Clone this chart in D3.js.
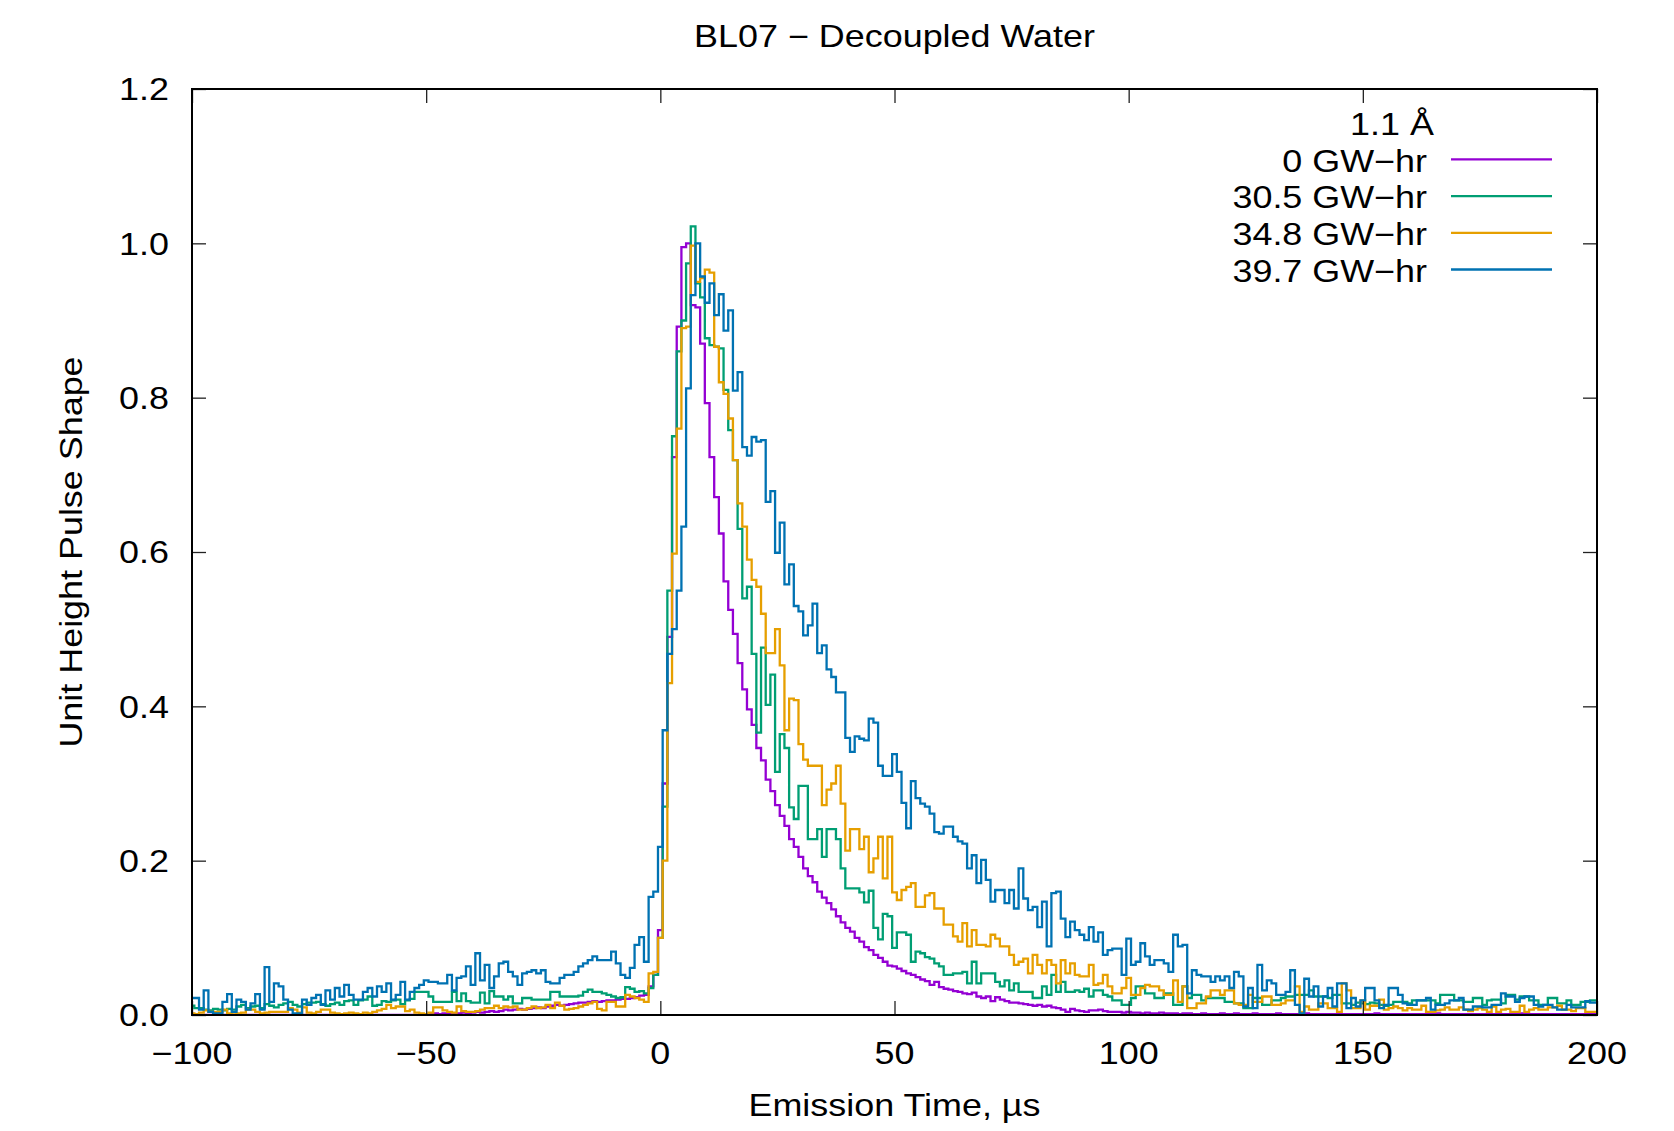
<!DOCTYPE html>
<html><head><meta charset="utf-8">
<script src="https://cdn.jsdelivr.net/npm/d3@7"></script>
<style>
body{margin:0;background:#fff}
text{font-family:"Liberation Sans",Arial,Helvetica,sans-serif;fill:#000}
</style>
</head><body>
<svg id="chart" width="1674" height="1131"></svg>
<script>
// ---------------- data ----------------
const chartTitle = "BL07 \u2212 Decoupled Water";
const xLabel = "Emission Time, \u00b5s";
const yLabel = "Unit Height Pulse Shape";
const legendTitle = "1.1 \u00c5";
const seriesNames = ["0 GW\u2212hr", "30.5 GW\u2212hr", "34.8 GW\u2212hr", "39.7 GW\u2212hr"];
const seriesColors = ["#9400d3", "#009e73", "#e69f00", "#0072b2"];
const xTicks = [-100, -50, 0, 50, 100, 150, 200];
const yTicks = [0, 0.2, 0.4, 0.6, 0.8, 1.0, 1.2];
const xTickLabels = ["\u2212100", "\u221250", "0", "50", "100", "150", "200"];
const yTickLabels = ["0.0", "0.2", "0.4", "0.6", "0.8", "1.0", "1.2"];
// bin centres (µs), 1 µs bins from -100 to 200
const binTimes = d3.range(-100, 201);

const pulse0 = [
0,0,0,0,0,0,0,0,0,0,
0,0,0,0,0,0,0,0,0,0,
0,0,0,0,0,0,0,0,0,0,
0,0,0,0,0,0,0,0,0,0,
0,0,0,0,0,0,0,0,0,0,
0.001,0.001,0.002,0.001,0.002,0.002,0.001,0.002,0.003,0.002,
0.003,0.004,0.003,0.004,0.005,0.004,0.005,0.007,0.006,0.007,
0.008,0.007,0.008,0.009,0.010,0.009,0.011,0.012,0.013,0.012,
0.013,0.014,0.015,0.016,0.016,0.017,0.018,0.017,0.018,0.019,
0.019,0.020,0.021,0.021,0.022,0.023,0.025,0.026,0.037,0.052,
0.110,0.300,0.490,0.723,0.892,0.995,1.000,0.920,0.917,0.870,
0.793,0.723,0.671,0.624,0.562,0.525,0.494,0.456,0.422,0.396,
0.376,0.346,0.330,0.305,0.290,0.272,0.258,0.245,0.228,0.218,
0.205,0.190,0.180,0.172,0.160,0.152,0.145,0.137,0.128,0.120,
0.113,0.108,0.100,0.095,0.088,0.084,0.078,0.074,0.069,0.064,
0.063,0.060,0.057,0.054,0.052,0.049,0.046,0.044,0.039,0.043,
0.036,0.034,0.033,0.031,0.030,0.028,0.027,0.029,0.024,0.022,
0.024,0.018,0.023,0.020,0.018,0.016,0.016,0.015,0.014,0.013,
0.012,0.013,0.011,0.012,0.010,0.009,0.007,0.004,0.008,0.006,
0.005,0.004,0.006,0.006,0.007,0.005,0.004,0.004,0.004,0.003,
0.004,0.003,0.003,0.002,0.003,0.002,0.002,0.003,0.002,0.002,
0.002,0.001,0.002,0.002,0.001,0.001,0.002,0.001,0.001,0.001,
0.002,0.001,0.001,0.002,0.001,0.001,0.001,0.002,0.001,0.001,
0.001,0.001,0.002,0.001,0.001,0.001,0.001,0.001,0.002,0.001,
0.001,0.001,0.001,0.001,0.001,0.001,0.001,0.001,0.001,0.001,
0.001,0.001,0.001,0.002,0.001,0.001,0.001,0.001,0.001,0.001,
0.001,0.001,0.001,0.001,0.001,0.001,0.002,0.001,0.001,0.001,
0.001,0.001,0.001,0.001,0.001,0.001,0.001,0.001,0.001,0.001,
0.001,0.001,0.001,0.001,0.002,0.001,0.001,0.001,0.001,0.001,
0.001,0.001,0.001,0.001,0.001,0.001,0.001,0.001,0.001,0.001,
0.001
];

const pulse305 = [
0.012,0.009,0.009,0.007,0.006,0.008,0.007,0.006,0.008,0.007,
0.011,0.013,0.009,0.011,0.012,0.009,0.014,0.012,0.010,0.013,
0.015,0.017,0.013,0.011,0.014,0.016,0.016,0.017,0.014,0.012,
0.014,0.016,0.013,0.018,0.019,0.013,0.019,0.020,0.024,0.012,
0.013,0.018,0.017,0.019,0.020,0.014,0.019,0.021,0.030,0.030,
0.030,0.024,0.017,0.017,0.017,0.017,0.030,0.018,0.028,0.018,
0.016,0.016,0.029,0.015,0.031,0.024,0.024,0.020,0.024,0.015,
0.015,0.022,0.022,0.020,0.020,0.020,0.020,0.030,0.030,0.024,
0.024,0.024,0.024,0.025,0.030,0.033,0.030,0.030,0.028,0.026,
0.024,0.022,0.023,0.036,0.034,0.030,0.031,0.028,0.035,0.052,
0.100,0.270,0.550,0.750,0.860,0.900,0.974,1.022,0.948,0.930,
0.877,0.868,0.866,0.864,0.810,0.758,0.719,0.630,0.540,0.555,
0.468,0.366,0.476,0.402,0.441,0.315,0.364,0.346,0.269,0.254,
0.297,0.297,0.228,0.228,0.241,0.205,0.241,0.241,0.228,0.190,
0.164,0.164,0.164,0.159,0.146,0.161,0.113,0.098,0.131,0.128,
0.087,0.107,0.107,0.104,0.069,0.082,0.080,0.075,0.073,0.067,
0.063,0.052,0.052,0.054,0.054,0.056,0.041,0.069,0.041,0.054,
0.054,0.054,0.043,0.037,0.045,0.032,0.041,0.030,0.030,0.030,
0.022,0.022,0.037,0.026,0.052,0.030,0.043,0.030,0.030,0.032,
0.030,0.034,0.024,0.032,0.032,0.026,0.024,0.019,0.019,0.013,
0.013,0.022,0.037,0.037,0.028,0.028,0.022,0.022,0.028,0.028,
0.013,0.013,0.037,0.022,0.026,0.026,0.019,0.022,0.022,0.022,
0.022,0.017,0.017,0.015,0.015,0.009,0.009,0.022,0.022,0.013,
0.013,0.019,0.019,0.022,0.024,0.024,0.026,0.026,0.026,0.032,
0.024,0.024,0.024,0.022,0.026,0.026,0.015,0.015,0.013,0.016,
0.015,0.014,0.016,0.015,0.013,0.012,0.013,0.017,0.017,0.017,
0.015,0.019,0.019,0.019,0.019,0.019,0.015,0.026,0.026,0.026,
0.019,0.019,0.017,0.017,0.022,0.022,0.013,0.019,0.020,0.020,
0.015,0.026,0.026,0.020,0.024,0.024,0.019,0.019,0.013,0.013,
0.022,0.022,0.015,0.015,0.019,0.013,0.013,0.017,0.017,0.019,
0.019
];

const pulse348 = [
0.002,0.001,0.003,0.006,0.004,0.004,0.004,0.007,0.002,0.003,
0.002,0.003,0.007,0.007,0.004,0.002,0.003,0.004,0.004,0.004,
0.004,0.009,0.007,0.003,0.010,0.003,0.002,0.004,0.007,0.007,
0.003,0.002,0.001,0.002,0.003,0.002,0.001,0.003,0.002,0.004,
0.006,0.008,0.013,0.009,0.011,0.011,0.005,0.007,0.003,0.002,
0.001,0.003,0.010,0.010,0.006,0.004,0.003,0.011,0.005,0.004,
0.004,0.005,0.007,0.009,0.009,0.012,0.009,0.011,0.010,0.011,
0.007,0.007,0.009,0.011,0.009,0.010,0.013,0.009,0.016,0.012,
0.007,0.008,0.009,0.011,0.013,0.015,0.017,0.008,0.006,0.017,
0.017,0.011,0.011,0.026,0.024,0.022,0.020,0.017,0.054,0.056,
0.100,0.200,0.430,0.598,0.760,0.890,0.892,0.997,0.950,0.955,
0.966,0.962,0.866,0.820,0.805,0.773,0.719,0.663,0.633,0.590,
0.564,0.555,0.520,0.469,0.469,0.500,0.453,0.369,0.410,0.408,
0.351,0.331,0.323,0.323,0.323,0.272,0.292,0.300,0.323,0.274,
0.213,0.241,0.241,0.215,0.231,0.185,0.203,0.231,0.177,0.231,
0.159,0.149,0.162,0.166,0.171,0.140,0.140,0.155,0.158,0.138,
0.138,0.117,0.117,0.102,0.095,0.119,0.089,0.110,0.091,0.091,
0.089,0.104,0.099,0.089,0.089,0.078,0.065,0.069,0.073,0.054,
0.078,0.065,0.054,0.071,0.065,0.041,0.071,0.054,0.067,0.052,
0.050,0.050,0.065,0.039,0.041,0.052,0.037,0.028,0.028,0.035,
0.048,0.026,0.026,0.035,0.039,0.037,0.037,0.032,0.026,0.026,
0.045,0.017,0.037,0.009,0.009,0.015,0.015,0.024,0.032,0.032,
0.026,0.032,0.032,0.015,0.013,0.013,0.026,0.017,0.017,0.024,
0.024,0.013,0.013,0.015,0.019,0.019,0.037,0.004,0.011,0.007,
0.007,0.015,0.015,0.009,0.009,0.004,0.041,0.032,0.009,0.009,
0.019,0.007,0.012,0.012,0.020,0.007,0.009,0.011,0.009,0.006,
0.009,0.007,0.007,0.012,0.004,0.004,0.006,0.007,0.010,0.007,
0.007,0.010,0.007,0.005,0.007,0.009,0.007,0.004,0.011,0.004,
0.007,0.008,0.004,0.004,0.012,0.004,0.007,0.009,0.007,0.007,
0.010,0.010,0.012,0.007,0.007,0.005,0.009,0.009,0.004,0.004,
0.004
];

const pulse397 = [
0.022,0.022,0.007,0.032,0.004,0.002,0.002,0.017,0.027,0.004,
0.020,0.017,0.007,0.015,0.027,0.007,0.062,0.017,0.041,0.037,
0.020,0.007,0.002,0.002,0.020,0.013,0.022,0.026,0.013,0.032,
0.020,0.035,0.024,0.039,0.026,0.020,0.020,0.030,0.035,0.024,
0.037,0.030,0.041,0.020,0.026,0.043,0.020,0.030,0.035,0.039,
0.045,0.043,0.043,0.041,0.041,0.052,0.032,0.048,0.050,0.063,
0.039,0.080,0.045,0.065,0.035,0.050,0.067,0.069,0.056,0.050,
0.039,0.054,0.056,0.058,0.054,0.058,0.043,0.041,0.041,0.048,
0.052,0.052,0.056,0.063,0.067,0.071,0.076,0.071,0.071,0.071,
0.082,0.067,0.052,0.048,0.061,0.091,0.101,0.069,0.153,0.160,
0.218,0.369,0.468,0.500,0.550,0.633,0.812,0.933,1.000,0.957,
0.923,0.948,0.907,0.934,0.887,0.913,0.809,0.833,0.736,0.725,
0.749,0.743,0.745,0.665,0.679,0.599,0.638,0.558,0.584,0.530,
0.523,0.492,0.505,0.533,0.469,0.479,0.448,0.438,0.418,0.418,
0.359,0.341,0.361,0.358,0.356,0.384,0.379,0.323,0.310,0.310,
0.338,0.315,0.275,0.242,0.303,0.281,0.274,0.270,0.261,0.237,
0.235,0.244,0.244,0.231,0.225,0.222,0.190,0.207,0.171,0.201,
0.175,0.147,0.162,0.162,0.145,0.162,0.138,0.190,0.151,0.136,
0.140,0.114,0.147,0.089,0.158,0.160,0.125,0.101,0.121,0.110,
0.104,0.097,0.114,0.095,0.107,0.078,0.084,0.086,0.086,0.052,
0.099,0.065,0.069,0.093,0.076,0.065,0.071,0.071,0.067,0.056,
0.104,0.089,0.091,0.028,0.058,0.052,0.050,0.050,0.043,0.050,
0.045,0.050,0.035,0.056,0.050,0.011,0.035,0.009,0.065,0.032,
0.045,0.041,0.026,0.026,0.030,0.058,0.013,0.002,0.047,0.024,
0.037,0.011,0.024,0.035,0.011,0.041,0.041,0.009,0.022,0.011,
0.019,0.035,0.035,0.019,0.009,0.013,0.035,0.035,0.026,0.015,
0.013,0.013,0.019,0.019,0.022,0.007,0.013,0.013,0.015,0.019,
0.019,0.022,0.007,0.007,0.011,0.011,0.010,0.010,0.013,0.013,
0.028,0.024,0.024,0.017,0.022,0.024,0.024,0.013,0.011,0.013,
0.013,0.010,0.007,0.007,0.013,0.010,0.010,0.010,0.018,0.016,
0.016
];

const seriesValues = [pulse0, pulse305, pulse348, pulse397];

// ---------------- drawing ----------------
const W = 1674, H = 1131;
const plot = {left: 192, right: 1597, top: 89, bottom: 1015};
const FS = 31.5;      // glyph height of the reference text
const STRETCH = 1.14; // reference text is horizontally wide

const svg = d3.select("#chart");
svg.append("rect").attr("width", W).attr("height", H).attr("fill", "#fff");

const x = d3.scaleLinear().domain([-100, 200]).range([plot.left, plot.right]);
const y = d3.scaleLinear().domain([0, 1.2]).range([plot.bottom, plot.top]);

svg.append("defs").append("clipPath").attr("id", "clip")
  .append("rect").attr("x", plot.left).attr("y", plot.top - 2)
  .attr("width", plot.right - plot.left).attr("height", plot.bottom - plot.top + 2);

const line = d3.line()
  .x((d, i) => x(binTimes[i]))
  .y(d => y(d))
  .curve(d3.curveStep);

const gLines = svg.append("g").attr("clip-path", "url(#clip)");
seriesValues.forEach((vals, si) => {
  gLines.append("path")
    .attr("d", line(vals))
    .attr("fill", "none")
    .attr("stroke", seriesColors[si])
    .attr("stroke-width", 2.3)
    .attr("stroke-linejoin", "miter");
});

// text helper: real text, stretched horizontally
function label(px, py, str, anchor, rot) {
  const t = `translate(${px},${py})` + (rot ? ` rotate(${rot})` : "") + ` scale(${STRETCH},1)`;
  return svg.append("text").attr("transform", t).attr("text-anchor", anchor)
    .attr("font-size", FS).text(str);
}

// axes (inward ticks on all four sides, labels drawn separately)
const tickLen = 14;
function styleAxis(g) {
  g.select(".domain").remove();
  g.selectAll(".tick line").attr("stroke", "#222").attr("stroke-width", 1.3);
}
svg.append("g").attr("transform", `translate(0,${plot.bottom})`)
  .call(d3.axisBottom(x).tickValues(xTicks).tickSize(-tickLen).tickFormat(""))
  .call(styleAxis);
svg.append("g").attr("transform", `translate(0,${plot.top})`)
  .call(d3.axisTop(x).tickValues(xTicks).tickSize(-tickLen).tickFormat(""))
  .call(styleAxis);
svg.append("g").attr("transform", `translate(${plot.left},0)`)
  .call(d3.axisLeft(y).tickValues(yTicks).tickSize(-tickLen).tickFormat(""))
  .call(styleAxis);
svg.append("g").attr("transform", `translate(${plot.right},0)`)
  .call(d3.axisRight(y).tickValues(yTicks).tickSize(-tickLen).tickFormat(""))
  .call(styleAxis);

xTicks.forEach((v, i) => label(x(v), 1064, xTickLabels[i], "middle"));
yTicks.forEach((v, i) => label(169, y(v) + 11.3, yTickLabels[i], "end"));

// frame
svg.append("rect").attr("x", plot.left).attr("y", plot.top)
  .attr("width", plot.right - plot.left).attr("height", plot.bottom - plot.top)
  .attr("fill", "none").attr("stroke", "#000").attr("stroke-width", 2);

// titles
label((plot.left + plot.right) / 2, 47, chartTitle, "middle");
label((plot.left + plot.right) / 2, 1116, xLabel, "middle");
label(82, (plot.top + plot.bottom) / 2, yLabel, "middle", -90);

// legend
const legTextX = 1427, legLineX1 = 1451, legLineX2 = 1552;
const legRow0 = 171.7, legStep = 36.7;
label(1392, 135, legendTitle, "middle");
seriesNames.forEach((name, i) => {
  const by = legRow0 + i * legStep;
  label(legTextX, by, name, "end");
  svg.append("line").attr("x1", legLineX1).attr("x2", legLineX2)
    .attr("y1", by - 12.3).attr("y2", by - 12.3)
    .attr("stroke", seriesColors[i]).attr("stroke-width", 2.3);
});
</script>
</body></html>
